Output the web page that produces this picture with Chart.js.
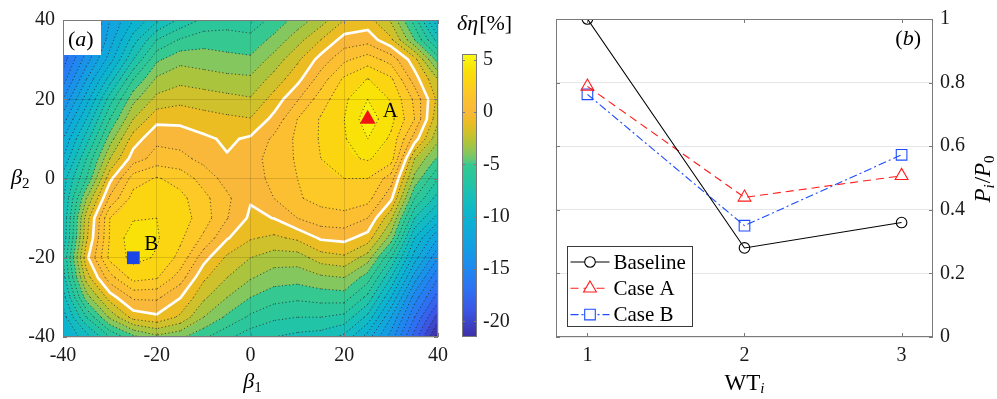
<!DOCTYPE html>
<html>
<head>
<meta charset="utf-8">
<script src="https://cdn.jsdelivr.net/npm/chart.js@4.4.1/dist/chart.umd.min.js"></script>
<style>
  html, body { margin: 0; padding: 0; background: #ffffff; width: 997px; height: 399px; overflow: hidden; }
  .panel { position: absolute; top: 0; }
</style>
</head>
<body>
<div class="panel" style="left:0;width:455px;height:399px"><canvas id="mapChart" width="455" height="399"></canvas></div>
<div class="panel" style="left:445px;width:85px;height:399px"><canvas id="barChart" width="85" height="399"></canvas></div>
<div class="panel" style="left:500px;width:497px;height:399px"><canvas id="powerChart" width="497" height="399"></canvas></div>
<script>
// ---------------- data ----------------
// yaw angles of the sweep (deg)
const beta1 = [-40, -35, -30, -25, -20, -15, -10, -5, 0, 5, 10, 15, 20, 25, 30, 35, 40];
const beta2 = [40, 35, 30, 25, 20, 15, 10, 5, 0, -5, -10, -15, -20, -25, -30, -35, -40];
// efficiency change δη [%], one row per beta2 value (top row = beta2 40), one column per beta1 value
const deltaEta = [
  [-17.5, -15, -12, -10, -8.2, -6.8, -5.8, -5.5, -5.6, -4.7, -3.6, -2.5, -1, -0.6, -2.2, -5.5, -10],
  [-17, -14.5, -11.5, -8.5, -6, -4.9, -4.4, -4.5, -4.7, -3.7, -2.4, -1, 0.4, 0.6, -0.8, -4, -7.5],
  [-16.5, -13.5, -10.5, -7, -4.2, -3.3, -3.5, -3.7, -3.8, -2.6, -1.2, 0.4, 1.8, 2.5, 1.6, -0.6, -4.5],
  [-15.5, -12, -8.5, -5, -2.8, -2.3, -2.5, -2.7, -2.8, -1.6, -0.3, 1.5, 3.2, 4.05, 3.2, 0.5, -2],
  [-14, -10.5, -6.5, -3.3, -1.7, -1.3, -1.5, -1.7, -1.9, -0.6, 0.9, 2.5, 3.8, 5.0, 3.9, 1.8, -1.3],
  [-12.5, -9, -5, -2, -0.3, -0.3, -0.6, -0.8, -0.95, 0.3, 2.0, 3.1, 4.0, 5.6, 4.3, 2.0, -1.8],
  [-11, -7.5, -3.5, -0.5, 0.77, 0.6, 0.2, -0.17, 0.16, 1.2, 2.2, 3.1, 3.9, 5.0, 3.8, 0.5, -2.8],
  [-10, -6, -2, 0.5, 1.4, 1.3, 0.7, 0.08, 0.5, 1.5, 2.1, 3.0, 3.8, 4.1, 3.5, -2, -4.2],
  [-8.5, -5, -0.3, 2.5, 3.1, 2.6, 1.6, 0.6, 0.5, 1.3, 2.0, 2.6, 3.0, 3.0, 1.5, -3.3, -6],
  [-8.2, -3, 1.2, 3.4, 3.6, 3.3, 2.3, 1.2, 0.1, 1.0, 1.9, 2.3, 2.5, 2.4, 0.2, -5, -7.5],
  [-8, -1.5, 3.0, 3.9, 4.0, 3.5, 2.5, 1.05, -0.2, 0.02, 1.0, 1.6, 1.7, 1.0, -1.8, -7, -9.5],
  [-7.8, -1.2, 3.1, 4.6, 4.1, 3.2, 1.8, 0.1, -0.9, -1.2, -0.8, 0.15, 0.3, -0.43, -3.5, -9, -12],
  [-7, -0.3, 3.3, 4.3, 3.9, 2.7, 0.4, -1.2, -2.0, -2.5, -2.5, -1.5, -1.2, -2.5, -6, -10.5, -14],
  [-7.5, -1.5, 1.6, 3.4, 3.1, 1.5, -0.8, -2.0, -2.9, -3.5, -3.6, -3.2, -3, -4.5, -8, -12.5, -16],
  [-8.5, -3.5, -0.5, 1.2, 1.2, 0.05, -1.8, -3.0, -4.0, -4.6, -4.8, -4.6, -4.5, -6.3, -10, -14.5, -17.5],
  [-9.5, -6, -2.8, -0.6, -0.2, -1.2, -3.0, -4.2, -5.2, -5.8, -6.0, -6.0, -6.3, -8.3, -12, -16, -19.5],
  [-10, -8.5, -6, -4.3, -3.3, -3.8, -4.8, -5.8, -6.6, -7.0, -7.3, -7.5, -8.3, -10.5, -13.5, -17.5, -21.5]
];
const mapTicks = [-40, -20, 0, 20, 40];
const contourStep = 1;
const colorLimits = [-21.5, 5.55];
const colorbarTicks = [5, 0, -5, -10, -15, -20];
// highlighted yaw settings [beta1, beta2]
const pointA = [25, 15];
const pointB = [-25, -20];

// normalised power per turbine
const turbines = [1, 2, 3];
const baseline = [1.0, 0.28, 0.36];
const caseA = [0.788, 0.439, 0.507];
const caseB = [0.763, 0.35, 0.573];
const powerTicks = [0, 0.2, 0.4, 0.6, 0.8, 1];

// ---------------- styling helpers ----------------
const SERIF = '"Liberation Serif", "Times New Roman", "DejaVu Serif", serif';
const TXT = '#1a1a1a';
const BOX = '#7a7a7a';

// colormap stops (value -> colour)
const cmapStops = [
  [-21.5, '#3e2fa6'], [-19, '#3b55e4'], [-17, '#2e70f2'], [-15, '#1f88f0'],
  [-12.5, '#12a2e0'], [-10, '#0cb4cf'], [-8, '#18bfb8'], [-7, '#22c4a7'],
  [-6, '#2bc79b'], [-5, '#36c891'], [-4.7, '#5cc87c'], [-4, '#84c75e'],
  [-3, '#abc43e'], [-2, '#cfc12b'], [-1, '#ebbd22'], [0, '#f9b83a'],
  [1, '#fbbf31'], [2, '#fcc926'], [3, '#fcd512'], [4, '#f9e208'],
  [5, '#f9f10d'], [5.55, '#f9fb15']
];
function hexRgb(h) { return [parseInt(h.slice(1, 3), 16), parseInt(h.slice(3, 5), 16), parseInt(h.slice(5, 7), 16)]; }
const cmapRgb = cmapStops.map(s => [s[0], hexRgb(s[1])]);
function colorFor(v) {
  if (v <= cmapRgb[0][0]) return cmapRgb[0][1];
  for (let k = 1; k < cmapRgb.length; k++) {
    if (v <= cmapRgb[k][0]) {
      const [v0, c0] = cmapRgb[k - 1], [v1, c1] = cmapRgb[k];
      const t = (v - v0) / (v1 - v0);
      return [0, 1, 2].map(i => Math.round(c0[i] + (c1[i] - c0[i]) * t));
    }
  }
  return cmapRgb[cmapRgb.length - 1][1];
}

// bilinear value of the field at (b1, b2)
function fieldAt(b1, b2) {
  const nx = beta1.length, ny = beta2.length;
  let fx = (b1 - beta1[0]) / (beta1[nx - 1] - beta1[0]) * (nx - 1);
  let fy = (b2 - beta2[0]) / (beta2[ny - 1] - beta2[0]) * (ny - 1);
  fx = Math.max(0, Math.min(nx - 1, fx)); fy = Math.max(0, Math.min(ny - 1, fy));
  const i = Math.min(nx - 2, Math.floor(fx)), j = Math.min(ny - 2, Math.floor(fy));
  const tx = fx - i, ty = fy - j;
  const a = deltaEta[j][i], b = deltaEta[j][i + 1], c = deltaEta[j + 1][i + 1], d = deltaEta[j + 1][i];
  return a * (1 - tx) * (1 - ty) + b * tx * (1 - ty) + c * tx * ty + d * (1 - tx) * ty;
}

// marching squares: iso-line segments of level L in data coordinates
function contourSegments(L) {
  const segs = [];
  for (let j = 0; j < beta2.length - 1; j++) {
    for (let i = 0; i < beta1.length - 1; i++) {
      const xa = beta1[i], xb = beta1[i + 1], ya = beta2[j], yb = beta2[j + 1];
      const a = deltaEta[j][i], b = deltaEta[j][i + 1], c = deltaEta[j + 1][i + 1], d = deltaEta[j + 1][i];
      const up = v => v >= L;
      const t = (v1, v2) => (L - v1) / (v2 - v1);
      const p = {};
      if (up(a) !== up(b)) p.top = [xa + (xb - xa) * t(a, b), ya];
      if (up(b) !== up(c)) p.right = [xb, ya + (yb - ya) * t(b, c)];
      if (up(d) !== up(c)) p.bottom = [xa + (xb - xa) * t(d, c), yb];
      if (up(a) !== up(d)) p.left = [xa, ya + (yb - ya) * t(a, d)];
      const keys = Object.keys(p);
      if (keys.length === 2) segs.push([p[keys[0]], p[keys[1]]]);
      else if (keys.length === 4) {
        const centre = (a + b + c + d) / 4;
        if (up(centre) === up(a)) { segs.push([p.top, p.right]); segs.push([p.bottom, p.left]); }
        else { segs.push([p.top, p.left]); segs.push([p.right, p.bottom]); }
      }
    }
  }
  return segs;
}

// text made of several runs (italic symbols, subscripts)
function richWidth(ctx, parts) {
  let w = 0;
  for (const p of parts) { ctx.font = p.font; w += ctx.measureText(p.t).width + (p.gap || 0); }
  return w;
}
function drawRich(ctx, parts, x, y, align) {
  const w = richWidth(ctx, parts);
  let cx = align === 'center' ? x - w / 2 : (align === 'right' ? x - w : x);
  ctx.textBaseline = 'alphabetic';
  ctx.textAlign = 'left';
  for (const p of parts) {
    ctx.font = p.font;
    ctx.fillStyle = p.color || '#000';
    ctx.fillText(p.t, cx, y + (p.dy || 0));
    cx += ctx.measureText(p.t).width + (p.gap || 0);
  }
}

function inwardTicks(ctx, area, xs, ys, xVals, yVals, len) {
  ctx.save();
  ctx.strokeStyle = BOX;
  ctx.lineWidth = 1;
  ctx.beginPath();
  for (const v of xVals) {
    const px = Math.round(xs.getPixelForValue(v)) + 0.5;
    ctx.moveTo(px, area.bottom); ctx.lineTo(px, area.bottom - len);
    ctx.moveTo(px, area.top); ctx.lineTo(px, area.top + len);
  }
  for (const v of yVals) {
    const py = Math.round(ys.getPixelForValue(v)) + 0.5;
    ctx.moveTo(area.left, py); ctx.lineTo(area.left + len, py);
    ctx.moveTo(area.right, py); ctx.lineTo(area.right - len, py);
  }
  ctx.stroke();
  ctx.strokeRect(Math.round(area.left) + 0.5, Math.round(area.top) + 0.5,
                 Math.round(area.right - area.left) - 1, Math.round(area.bottom - area.top) - 1);
  ctx.restore();
}

function drawMarker(ctx, style, x, y, r) {
  ctx.beginPath();
  if (style === 'circle') {
    ctx.arc(x, y, r, 0, Math.PI * 2);
  } else if (style === 'triangle') {
    for (let k = 0; k < 3; k++) {
      const ang = k * 2 * Math.PI / 3;
      const px = x + Math.sin(ang) * r, py = y - Math.cos(ang) * r;
      if (k === 0) ctx.moveTo(px, py); else ctx.lineTo(px, py);
    }
    ctx.closePath();
  } else {
    const s = r * Math.SQRT1_2;
    ctx.rect(x - s, y - s, 2 * s, 2 * s);
  }
  ctx.fill();
  ctx.stroke();
}

Chart.defaults.font.family = SERIF;
Chart.defaults.color = TXT;
Chart.defaults.animation = false;

const tickFont = { family: SERIF, size: 20 };

// ---------------- (a) efficiency map ----------------
const fieldPlugin = {
  id: 'fieldPlugin',
  beforeDraw(chart) {
    const { ctx, chartArea: a, scales: { x, y } } = chart;
    const W = Math.round(a.right - a.left), H = Math.round(a.bottom - a.top);
    const off = document.createElement('canvas');
    off.width = W; off.height = H;
    const octx = off.getContext('2d');
    const img = octx.createImageData(W, H);
    const cache = {};
    for (let py = 0; py < H; py++) {
      const b2 = y.getValueForPixel(a.top + py + 0.5);
      for (let px = 0; px < W; px++) {
        const b1 = x.getValueForPixel(a.left + px + 0.5);
        const lvl = Math.floor(fieldAt(b1, b2) / contourStep) * contourStep;
        const c = cache[lvl] || (cache[lvl] = colorFor(lvl));
        const o = (py * W + px) * 4;
        img.data[o] = c[0]; img.data[o + 1] = c[1]; img.data[o + 2] = c[2]; img.data[o + 3] = 255;
      }
    }
    octx.putImageData(img, 0, 0);
    ctx.drawImage(off, a.left, a.top);

    ctx.save();
    ctx.beginPath();
    ctx.rect(a.left, a.top, W, H);
    ctx.clip();
    let vmin = Infinity, vmax = -Infinity;
    deltaEta.forEach(r => r.forEach(v => { vmin = Math.min(vmin, v); vmax = Math.max(vmax, v); }));
    const strokeSegs = (segs) => {
      ctx.beginPath();
      for (const s of segs) {
        ctx.moveTo(x.getPixelForValue(s[0][0]), y.getPixelForValue(s[0][1]));
        ctx.lineTo(x.getPixelForValue(s[1][0]), y.getPixelForValue(s[1][1]));
      }
      ctx.stroke();
    };
    ctx.lineWidth = 1;
    ctx.strokeStyle = 'rgba(35,35,35,0.75)';
    ctx.setLineDash([1.2, 2.4]);
    for (let L = Math.ceil(vmin); L <= Math.floor(vmax); L += contourStep) {
      if (L === 0) continue;
      strokeSegs(contourSegments(L));
    }
    // zero level
    ctx.setLineDash([]);
    ctx.strokeStyle = '#ffffff';
    ctx.lineWidth = 2.6;
    ctx.lineCap = 'round';
    strokeSegs(contourSegments(0));
    ctx.restore();
  },
  afterDatasetsDraw(chart) {
    const { ctx } = chart;
    ctx.save();
    chart.data.datasets.forEach((ds, i) => {
      const pt = chart.getDatasetMeta(i).data[0];
      const off = ds.labelOffset;
      ctx.font = '21px ' + SERIF;
      ctx.fillStyle = '#000';
      ctx.textBaseline = 'alphabetic';
      ctx.textAlign = 'left';
      ctx.fillText(ds.label, pt.x + off[0], pt.y + off[1]);
    });
    ctx.restore();
  },
  afterDraw(chart) {
    const { ctx, chartArea: a, scales: { x, y } } = chart;
    inwardTicks(ctx, a, x, y, mapTicks, mapTicks, 4);
    // panel tag
    ctx.save();
    ctx.fillStyle = '#ffffff';
    ctx.fillRect(a.left + 1, a.top + 1, 37, 34);
    drawRich(ctx, [
      { t: '(', font: '22px ' + SERIF },
      { t: 'a', font: 'italic 22px ' + SERIF },
      { t: ')', font: '22px ' + SERIF }
    ], a.left + 5, a.top + 26, 'left');
    // axis titles
    drawRich(ctx, [
      { t: 'β', font: 'italic 22px ' + SERIF, gap: 0 },
      { t: '1', font: '15px ' + SERIF, dy: 4 }
    ], (a.left + a.right) / 2 + 2, 388, 'center');
    drawRich(ctx, [
      { t: 'β', font: 'italic 22px ' + SERIF, gap: 0 },
      { t: '2', font: '15px ' + SERIF, dy: 4 }
    ], 11, 184, 'left');
    ctx.restore();
  }
};

new Chart(document.getElementById('mapChart'), {
  type: 'scatter',
  data: {
    datasets: [
      {
        label: 'A',
        data: [{ x: pointA[0], y: pointA[1] }],
        pointStyle: 'triangle', pointRadius: 9.2,
        backgroundColor: '#f01414', borderColor: '#f01414', borderWidth: 0,
        labelOffset: [15, -2]
      },
      {
        label: 'B',
        data: [{ x: pointB[0], y: pointB[1] }],
        pointStyle: 'rect', pointRadius: 9,
        backgroundColor: '#1a46e8', borderColor: '#1a46e8', borderWidth: 0,
        labelOffset: [11, -8]
      }
    ]
  },
  options: {
    responsive: false,
    events: [],
    layout: { padding: { top: 14, right: 12, left: 0, bottom: 0 } },
    plugins: { legend: { display: false }, tooltip: { enabled: false } },
    scales: {
      x: {
        type: 'linear', min: -40, max: 40,
        afterBuildTicks: s => { s.ticks = mapTicks.map(v => ({ value: v })); },
        afterFit: s => { s.height = 62; },
        grid: { color: 'rgba(0,0,0,0.13)', drawTicks: false },
        border: { display: false },
        ticks: { font: tickFont, color: TXT, padding: 7, maxRotation: 0 }
      },
      y: {
        type: 'linear', min: -40, max: 40,
        afterBuildTicks: s => { s.ticks = mapTicks.map(v => ({ value: v })); },
        afterFit: s => { s.width = 63; },
        grid: { color: 'rgba(0,0,0,0.13)', drawTicks: false },
        border: { display: false },
        ticks: { font: tickFont, color: TXT, padding: 8 }
      }
    }
  },
  plugins: [fieldPlugin]
});

// ---------------- colour bar ----------------
const colorbarPlugin = {
  id: 'colorbarPlugin',
  afterDraw(chart) {
    const { ctx, chartArea: a, scales: { y } } = chart;
    ctx.save();
    ctx.strokeStyle = BOX;
    ctx.lineWidth = 1;
    ctx.strokeRect(Math.round(a.left) + 0.5, Math.round(a.top) + 0.5,
                   Math.round(a.right - a.left) - 1, Math.round(a.bottom - a.top) - 1);
    ctx.beginPath();
    for (const v of colorbarTicks) {
      const py = Math.round(y.getPixelForValue(v)) + 0.5;
      ctx.moveTo(a.right, py); ctx.lineTo(a.right - 3, py);
      ctx.moveTo(a.left, py); ctx.lineTo(a.left + 3, py);
    }
    ctx.stroke();
    drawRich(ctx, [
      { t: 'δη', font: 'italic 22px ' + SERIF, gap: 1 },
      { t: '[%]', font: '22px ' + SERIF }
    ], a.left - 5, 30, 'left');
    ctx.restore();
  }
};

new Chart(document.getElementById('barChart'), {
  type: 'bar',
  data: {
    labels: ['δη'],
    datasets: [{
      data: [[colorLimits[0], colorLimits[1]]],
      borderWidth: 0,
      barPercentage: 1,
      categoryPercentage: 1,
      backgroundColor: (c) => {
        const ch = c.chart;
        if (!ch.chartArea) return '#f9b83a';
        const ys = ch.scales.y;
        const p0 = ys.getPixelForValue(colorLimits[0]), p1 = ys.getPixelForValue(colorLimits[1]);
        const g = ch.ctx.createLinearGradient(0, p0, 0, p1);
        for (const [v, col] of cmapStops) {
          g.addColorStop(Math.max(0, Math.min(1, (v - colorLimits[0]) / (colorLimits[1] - colorLimits[0]))), col);
        }
        return g;
      }
    }]
  },
  options: {
    responsive: false,
    events: [],
    layout: { padding: { top: 54, left: 17, right: 0, bottom: 62 } },
    plugins: { legend: { display: false }, tooltip: { enabled: false } },
    scales: {
      x: { display: false },
      y: {
        position: 'right', min: colorLimits[0], max: colorLimits[1],
        afterBuildTicks: s => { s.ticks = colorbarTicks.map(v => ({ value: v })); },
        afterFit: s => { s.width = 53; },
        grid: { display: false, drawTicks: false },
        border: { display: false },
        ticks: { font: tickFont, color: TXT, padding: 6 }
      }
    }
  },
  plugins: [colorbarPlugin]
});

// ---------------- (b) normalised power ----------------
const powerPlugin = {
  id: 'powerPlugin',
  afterDraw(chart) {
    const { ctx, chartArea: a, scales: { x, y } } = chart;
    inwardTicks(ctx, a, x, y, turbines, powerTicks, 4);
    ctx.save();
    // legend
    const bx = Math.round(a.left + 11) + 0.5, bw = 125, bh = 80;
    const by = Math.round(a.bottom - 11 - bh) + 0.5;
    ctx.fillStyle = '#ffffff';
    ctx.fillRect(bx, by, bw, bh);
    ctx.strokeStyle = '#3a3a3a';
    ctx.lineWidth = 1;
    ctx.strokeRect(bx, by, bw, bh);
    chart.data.datasets.forEach((ds, i) => {
      const ry = by + 15.5 + i * 26.3;
      ctx.save();
      ctx.strokeStyle = ds.borderColor;
      ctx.lineWidth = ds.borderWidth;
      ctx.setLineDash(ds.borderDash || []);
      ctx.beginPath();
      ctx.moveTo(bx + 3, ry); ctx.lineTo(bx + 42, ry);
      ctx.stroke();
      ctx.setLineDash([]);
      ctx.fillStyle = '#ffffff';
      drawMarker(ctx, ds.pointStyle, bx + 22.5, ry, ds.pointRadius);
      ctx.restore();
      ctx.font = '21px ' + SERIF;
      ctx.fillStyle = '#000';
      ctx.textAlign = 'left';
      ctx.textBaseline = 'middle';
      ctx.fillText(ds.label, bx + 46, ry + 1);
    });
    // panel tag
    drawRich(ctx, [
      { t: '(', font: '22px ' + SERIF },
      { t: 'b', font: 'italic 22px ' + SERIF },
      { t: ')', font: '22px ' + SERIF }
    ], a.right - 12, a.top + 26, 'right');
    // x title
    drawRich(ctx, [
      { t: 'WT', font: '23px ' + SERIF },
      { t: 'i', font: 'italic 15px ' + SERIF, dy: 3 }
    ], (a.left + a.right) / 2, 390, 'center');
    // y title (right side, rotated)
    ctx.translate(490, (a.top + a.bottom) / 2 + 1);
    ctx.rotate(-Math.PI / 2);
    drawRich(ctx, [
      { t: 'P', font: 'italic 23px ' + SERIF },
      { t: 'i', font: 'italic 15px ' + SERIF, dy: 4, gap: 1 },
      { t: '/', font: '23px ' + SERIF },
      { t: 'P', font: 'italic 23px ' + SERIF },
      { t: '0', font: '15px ' + SERIF, dy: 4 }
    ], 0, 0, 'center');
    ctx.restore();
  }
};

const series = [
  { label: 'Baseline', values: baseline, color: '#000000', dash: [], style: 'circle', radius: 5.3 },
  { label: 'Case A', values: caseA, color: '#ff1c1c', dash: [8, 5], style: 'triangle', radius: 7.4 },
  { label: 'Case B', values: caseB, color: '#1e4dff', dash: [8, 3, 2, 3], style: 'rect', radius: 7.5 }
];

new Chart(document.getElementById('powerChart'), {
  type: 'scatter',
  data: {
    datasets: series.map(s => ({
      label: s.label,
      data: turbines.map((t, k) => ({ x: t, y: s.values[k] })),
      showLine: true,
      borderColor: s.color,
      borderWidth: 1.1,
      borderDash: s.dash,
      pointStyle: s.style,
      pointRadius: s.radius,
      pointBorderWidth: 1.1,
      pointBorderColor: s.color,
      pointBackgroundColor: 'rgba(255,255,255,0)',
      backgroundColor: 'rgba(255,255,255,0)',
      tension: 0
    }))
  },
  options: {
    responsive: false,
    events: [],
    layout: { padding: { top: 14, left: 56, right: 0, bottom: 0 } },
    plugins: { legend: { display: false }, tooltip: { enabled: false } },
    scales: {
      x: {
        type: 'linear', min: 0.8, max: 3.2,
        afterBuildTicks: s => { s.ticks = turbines.map(v => ({ value: v })); },
        afterFit: s => { s.height = 62; },
        grid: { display: false, drawTicks: false },
        border: { display: false },
        ticks: { font: tickFont, color: TXT, padding: 7, maxRotation: 0 }
      },
      y: {
        position: 'right', min: 0, max: 1,
        afterBuildTicks: s => { s.ticks = powerTicks.map(v => ({ value: v })); },
        afterFit: s => { s.width = 64; },
        grid: { color: '#e6e6e6', drawTicks: false },
        border: { display: false },
        ticks: { font: tickFont, color: TXT, padding: 7, callback: v => String(Math.round(v * 10) / 10) }
      }
    }
  },
  plugins: [powerPlugin]
});
</script>
</body>
</html>
